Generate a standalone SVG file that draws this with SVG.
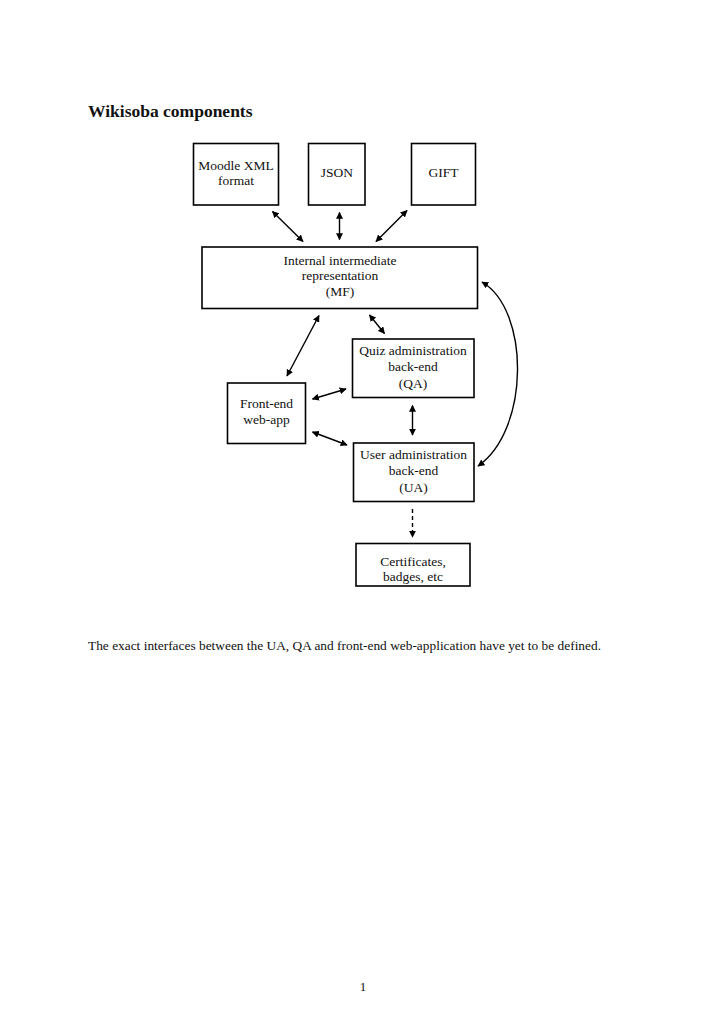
<svg xmlns="http://www.w3.org/2000/svg" width="724" height="1024" viewBox="0 0 724 1024">
<defs>
<marker id="ah" viewBox="0 0 10 10" refX="9" refY="5" markerWidth="7" markerHeight="7" markerUnits="userSpaceOnUse" orient="auto-start-reverse">
<path d="M0,0 L10,5 L0,10 z" fill="#000"/>
</marker>
<style>
.box{fill:#fff;stroke:#000;stroke-width:1.6}
.t{font-family:"Liberation Serif","Times New Roman",serif;font-size:13.5px;fill:#111;text-anchor:middle}
.c{fill:none;stroke:#000;stroke-width:1.4}
</style>
</defs>
<rect width="724" height="1024" fill="#fff"/>
<text x="88" y="117" font-family="Liberation Serif, serif" font-weight="bold" font-size="17.5" fill="#111">Wikisoba components</text>

<g id="moodle"><rect class="box" x="193.5" y="143.5" width="85" height="61.5"/>
<text class="t" x="236" y="170">Moodle XML</text><text class="t" x="236" y="185">format</text></g>
<g id="json"><rect class="box" x="308.5" y="143.5" width="56.5" height="61.5"/>
<text class="t" x="337" y="177">JSON</text></g>
<g id="gift"><rect class="box" x="411.5" y="143.5" width="64" height="61.5"/>
<text class="t" x="443.5" y="177">GIFT</text></g>
<g id="mf"><rect class="box" x="202" y="247" width="275.5" height="61.5"/>
<text class="t" x="340" y="265">Internal intermediate</text>
<text class="t" x="340" y="280">representation</text>
<text class="t" x="340" y="296">(MF)</text></g>
<g id="qa"><rect class="box" x="352.5" y="339" width="121.5" height="58.5"/>
<text class="t" x="413" y="355">Quiz administration</text>
<text class="t" x="413" y="371">back-end</text>
<text class="t" x="413" y="388">(QA)</text></g>
<g id="fe"><rect class="box" x="227.5" y="383" width="78" height="60.5"/>
<text class="t" x="266.5" y="408">Front-end</text>
<text class="t" x="266.5" y="424">web-app</text></g>
<g id="ua"><rect class="box" x="353.5" y="443" width="120.5" height="58.5"/>
<text class="t" x="413.5" y="459">User administration</text>
<text class="t" x="413.5" y="475">back-end</text>
<text class="t" x="413.5" y="492">(UA)</text></g>
<g id="cert"><rect class="box" x="356" y="543.5" width="114" height="42.5"/>
<text class="t" x="413" y="566">Certificates,</text>
<text class="t" x="413" y="581">badges, etc</text></g>

<g id="connectors">
<line class="c" x1="272.5" y1="211.5" x2="303" y2="241.5" marker-start="url(#ah)" marker-end="url(#ah)"/>
<line class="c" x1="339.5" y1="212.5" x2="339.5" y2="239.5" marker-start="url(#ah)" marker-end="url(#ah)"/>
<line class="c" x1="407" y1="210.5" x2="376" y2="241.5" marker-start="url(#ah)" marker-end="url(#ah)"/>
<line class="c" x1="319" y1="315.5" x2="287" y2="376" marker-start="url(#ah)" marker-end="url(#ah)"/>
<line class="c" x1="369.5" y1="315" x2="384.5" y2="333.5" marker-start="url(#ah)" marker-end="url(#ah)"/>
<line class="c" x1="312.5" y1="399" x2="346" y2="389" marker-start="url(#ah)" marker-end="url(#ah)"/>
<line class="c" x1="312.5" y1="432" x2="347" y2="445" marker-start="url(#ah)" marker-end="url(#ah)"/>
<line class="c" x1="412.5" y1="405.5" x2="412.5" y2="435" marker-start="url(#ah)" marker-end="url(#ah)"/>
<path class="c" d="M482,282 C530,310 530,430 478,466" marker-start="url(#ah)" marker-end="url(#ah)"/>
<line class="c" x1="412.5" y1="509" x2="412.5" y2="537" stroke-dasharray="4,3" marker-end="url(#ah)"/>
</g>

<text x="88" y="650" font-family="Liberation Serif, serif" font-size="13" fill="#111" textLength="513" lengthAdjust="spacingAndGlyphs">The exact interfaces between the UA, QA and front-end web-application have yet to be defined.</text>
<text x="363" y="991" font-family="Liberation Serif, serif" font-size="13" fill="#111" text-anchor="middle">1</text>
</svg>
